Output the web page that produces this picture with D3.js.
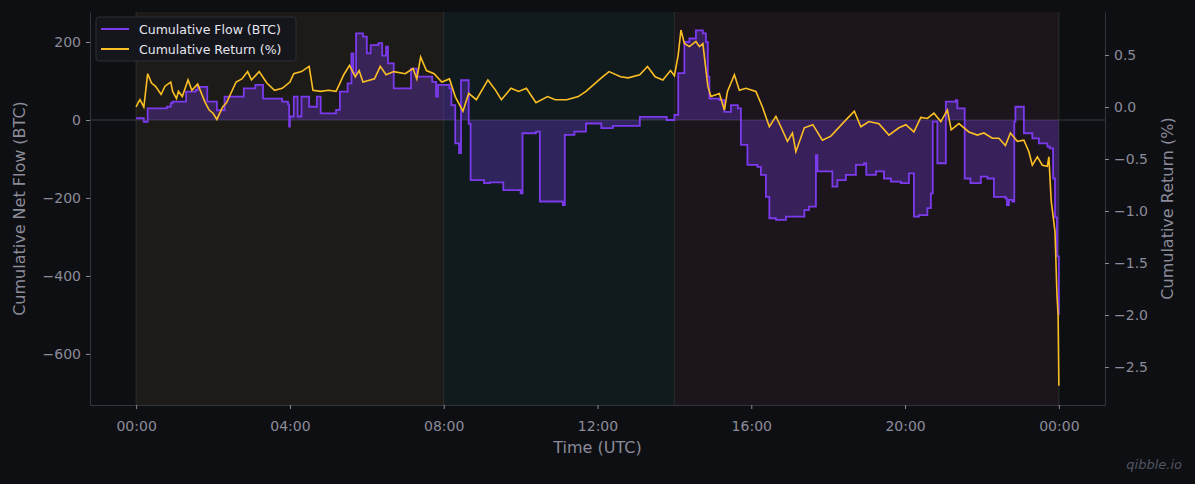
<!DOCTYPE html>
<html><head><meta charset="utf-8">
<script src="https://cdn.jsdelivr.net/npm/d3@7"></script>
<style>body{margin:0;background:#0e0f13;}svg{display:block;font-family:"DejaVu Sans",sans-serif;}</style>
</head><body><svg id="c" width="1195" height="484"></svg>
<script>
const flowTimes=[0,0.2,0.3,0.8,0.9,0.95,1.3,1.55,1.6,1.85,2.1,2.3,2.8,3.1,3.3,3.8,3.95,3.98,4.0,4.1,4.2,4.3,4.5,4.7,4.8,5.2,5.3,5.5,5.6,5.65,5.72,5.9,6.0,6.1,6.3,6.4,6.5,6.55,6.7,7.1,7.15,7.3,7.7,7.8,7.85,8.15,8.2,8.3,8.4,8.45,8.55,8.65,8.7,9.05,9.2,9.55,10.0,10.05,10.4,10.5,11.1,11.15,11.4,11.7,12.1,12.4,13.1,13.7,13.8,14.0,14.1,14.17,14.26,14.39,14.56,14.74,14.82,14.87,14.91,15.17,15.3,15.47,15.65,15.73,15.9,16.16,16.25,16.38,16.47,16.64,16.9,17.38,17.5,17.68,17.72,17.98,18.11,18.24,18.46,18.72,18.93,18.99,19.24,19.45,19.63,19.89,20.1,20.23,20.36,20.58,20.67,20.72,20.84,21.06,21.32,21.36,21.55,21.7,21.97,22.14,22.31,22.61,22.65,22.7,22.79,22.84,22.87,22.99,23.09,23.31,23.48,23.7,23.76,23.85,23.9,23.95,24.0];
const flowValues=[5,-5,30,34,43,47,73,77,85,47,25,60,81,90,55,47,40,-17,9,60,9,60,34,60,17,26,73,94,171,120,222,214,171,192,197,165,188,145,81,81,132,111,98,60,90,81,38,-60,-85,102,102,-10,-154,-162,-160,-180,-188,-34,-30,-209,-218,-38,-30,-9,-21,-15,8,8,0,13,120,120,200,209,230,222,200,111,55,51,21,38,30,-64,-115,-120,-141,-197,-252,-256,-248,-231,-222,-90,-132,-132,-171,-154,-141,-115,-111,-141,-132,-150,-158,-162,-137,-248,-244,-226,-188,-4,-111,47,51,30,-150,-162,-145,-150,-197,-201,-218,-205,-209,-4,34,34,-34,-47,-60,-68,-73,-150,-250,-350,-500,-580];
const retTimes=[0,0.05,0.1,0.2,0.3,0.4,0.5,0.65,0.75,0.9,0.95,1.05,1.1,1.2,1.35,1.45,1.6,1.8,1.9,2.0,2.1,2.25,2.35,2.6,2.75,2.9,3.0,3.2,3.4,3.6,3.8,4.0,4.1,4.3,4.5,4.6,4.8,5.0,5.2,5.3,5.4,5.55,5.7,5.8,5.9,6.2,6.35,6.5,6.7,7.0,7.2,7.3,7.4,7.55,7.75,7.95,8.15,8.3,8.5,8.65,8.85,9.15,9.35,9.5,9.75,9.95,10.15,10.4,10.7,10.9,11.2,11.5,11.7,12.1,12.3,12.6,12.8,13.1,13.3,13.5,13.7,13.9,14.0,14.1,14.17,14.26,14.39,14.56,14.65,14.74,14.87,14.95,15.17,15.3,15.38,15.56,15.69,15.86,16.12,16.29,16.47,16.64,16.77,16.94,17.07,17.16,17.38,17.6,17.85,18.07,18.37,18.68,18.85,19.06,19.32,19.58,19.84,20.02,20.23,20.41,20.58,20.75,20.93,21.1,21.2,21.4,21.66,21.88,22.05,22.27,22.44,22.61,22.74,22.92,23.09,23.22,23.31,23.44,23.57,23.7,23.74,23.8,23.9,23.95,23.98,24.0];
const retValues=[0.0,0.04,0.07,0.0,0.32,0.23,0.2,0.12,0.2,0.24,0.15,0.08,0.15,0.1,0.26,0.16,0.22,0.04,-0.03,-0.06,-0.12,0.0,0.04,0.24,0.27,0.34,0.26,0.34,0.23,0.16,0.18,0.24,0.32,0.34,0.39,0.16,0.15,0.16,0.15,0.23,0.31,0.4,0.29,0.35,0.24,0.27,0.39,0.31,0.34,0.32,0.37,0.27,0.48,0.35,0.32,0.24,0.27,0.1,-0.04,0.13,0.07,0.26,0.16,0.07,0.18,0.15,0.18,0.04,0.1,0.07,0.07,0.1,0.15,0.28,0.34,0.29,0.28,0.31,0.39,0.29,0.26,0.35,0.3,0.5,0.74,0.61,0.58,0.63,0.58,0.61,0.2,0.1,0.13,-0.03,0.15,0.31,0.16,0.18,0.15,0.0,-0.19,-0.09,-0.19,-0.33,-0.25,-0.43,-0.2,-0.17,-0.32,-0.28,-0.16,-0.04,-0.19,-0.14,-0.16,-0.27,-0.2,-0.17,-0.24,-0.1,-0.11,-0.06,-0.14,-0.03,-0.22,-0.16,-0.24,-0.27,-0.25,-0.3,-0.3,-0.37,-0.25,-0.33,-0.32,-0.43,-0.56,-0.48,-0.56,-0.57,-0.48,-0.9,-1.2,-1.8,-2.0,-2.68,-2.29];
const sessions=[{s:0,e:8,c:"#1d1b18"},{s:8,e:14,c:"#111b1d"},{s:14,e:24,c:"#1c161c"}];
const timeTicks=[0,4,8,12,16,20,24];
const timeLabels=["00:00","04:00","08:00","12:00","16:00","20:00","00:00"];
const leftTicks=[-600,-400,-200,0,200];
const rightTicks=[-2.5,-2,-1.5,-1,-0.5,0,0.5];

const svg=d3.select("#c");
const L=90,R=1105,T=12,B=405;
const x=d3.scaleLinear().domain([-1.2,25.2]).range([L,R]);
const y=d3.scaleLinear().domain([-731,277]).range([B,T]);
const y2=d3.scaleLinear().domain([-2.865,0.913]).range([B,T]);
const txt="#8b8b99", spine="#34343c";
svg.append("rect").attr("width",1195).attr("height",484).attr("fill","#0e0f13");
svg.selectAll(".sess").data(sessions).join("rect").attr("x",d=>x(d.s)).attr("width",d=>x(d.e)-x(d.s)).attr("y",T).attr("height",B-T).attr("fill",d=>d.c);
svg.selectAll(".vl").data([0,8,14,24]).join("line").attr("x1",d=>x(d)).attr("x2",d=>x(d)).attr("y1",T).attr("y2",B).attr("stroke","#2a2f2c").attr("stroke-width",1);
svg.append("line").attr("x1",L).attr("x2",R).attr("y1",y(0)).attr("y2",y(0)).attr("stroke","#3a3a48").attr("stroke-width",1);
const fd=flowTimes.map((t,i)=>[t,flowValues[i]]);
const rd=retTimes.map((t,i)=>[t,retValues[i]]);
svg.append("path").datum(fd).attr("d",d3.area().x(d=>x(d[0])).y0(y(0)).y1(d=>y(d[1])).curve(d3.curveStepAfter)).attr("fill","#7c3aed").attr("fill-opacity",0.3);
svg.append("path").datum(fd).attr("d",d3.line().x(d=>x(d[0])).y(d=>y(d[1])).curve(d3.curveStepAfter)).attr("fill","none").attr("stroke","#7c3aed").attr("stroke-width",1.8);
svg.append("path").datum(rd).attr("d",d3.line().x(d=>x(d[0])).y(d=>y2(d[1]))).attr("fill","none").attr("stroke","#fbbf24").attr("stroke-width",1.6);
// axes
const ax=svg.append("g").attr("transform",`translate(0,${B})`).call(d3.axisBottom(x).tickValues(timeTicks).tickFormat((d,i)=>timeLabels[i]).tickSizeOuter(0));
const al=svg.append("g").attr("transform",`translate(${L},0)`).call(d3.axisLeft(y).tickValues(leftTicks).tickFormat(d=>d<0?"\u2212"+(-d):d).tickSizeOuter(0));
const ar=svg.append("g").attr("transform",`translate(${R},0)`).call(d3.axisRight(y2).tickValues(rightTicks).tickFormat(d=>(d<0?"\u2212":"")+Math.abs(d).toFixed(1)).tickSizeOuter(0));
[ax,al,ar].forEach(g=>{g.select(".domain").attr("stroke",spine);g.selectAll(".tick line").attr("stroke",txt).attr("y2",g===ax?4:null);g.selectAll("text").attr("fill",txt).attr("font-size",14).attr("font-family","DejaVu Sans");});
al.selectAll(".tick line").attr("x2",-4);ar.selectAll(".tick line").attr("x2",4);
ax.selectAll("text").attr("dy","1.2em");
svg.append("text").attr("x",(L+R)/2).attr("y",453).attr("text-anchor","middle").attr("fill",txt).attr("font-size",16).text("Time (UTC)");
svg.append("text").attr("transform",`translate(25,${(T+B)/2}) rotate(-90)`).attr("text-anchor","middle").attr("fill",txt).attr("font-size",16).text("Cumulative Net Flow (BTC)");
svg.append("text").attr("transform",`translate(1173,${(T+B)/2}) rotate(-90)`).attr("text-anchor","middle").attr("fill",txt).attr("font-size",16).text("Cumulative Return (%)");
// legend
const lg=svg.append("g").attr("transform","translate(96,17)");
lg.append("rect").attr("width",200).attr("height",44).attr("rx",3).attr("fill","#15161c").attr("stroke","#2c2d36");
[["Cumulative Flow (BTC)","#7c3aed"],["Cumulative Return (%)","#fbbf24"]].forEach((d,i)=>{
 lg.append("line").attr("x1",5).attr("x2",33).attr("y1",12+i*20).attr("y2",12+i*20).attr("stroke",d[1]).attr("stroke-width",2);
 lg.append("text").attr("x",43).attr("y",16.5+i*20).attr("fill","#e6e6ee").attr("font-size",12.5).text(d[0]);
});
svg.append("text").attr("x",1182).attr("y",469).attr("text-anchor","end").attr("fill","#4f5360").attr("font-size",13).attr("font-style","italic").text("qibble.io");
</script></body></html>
